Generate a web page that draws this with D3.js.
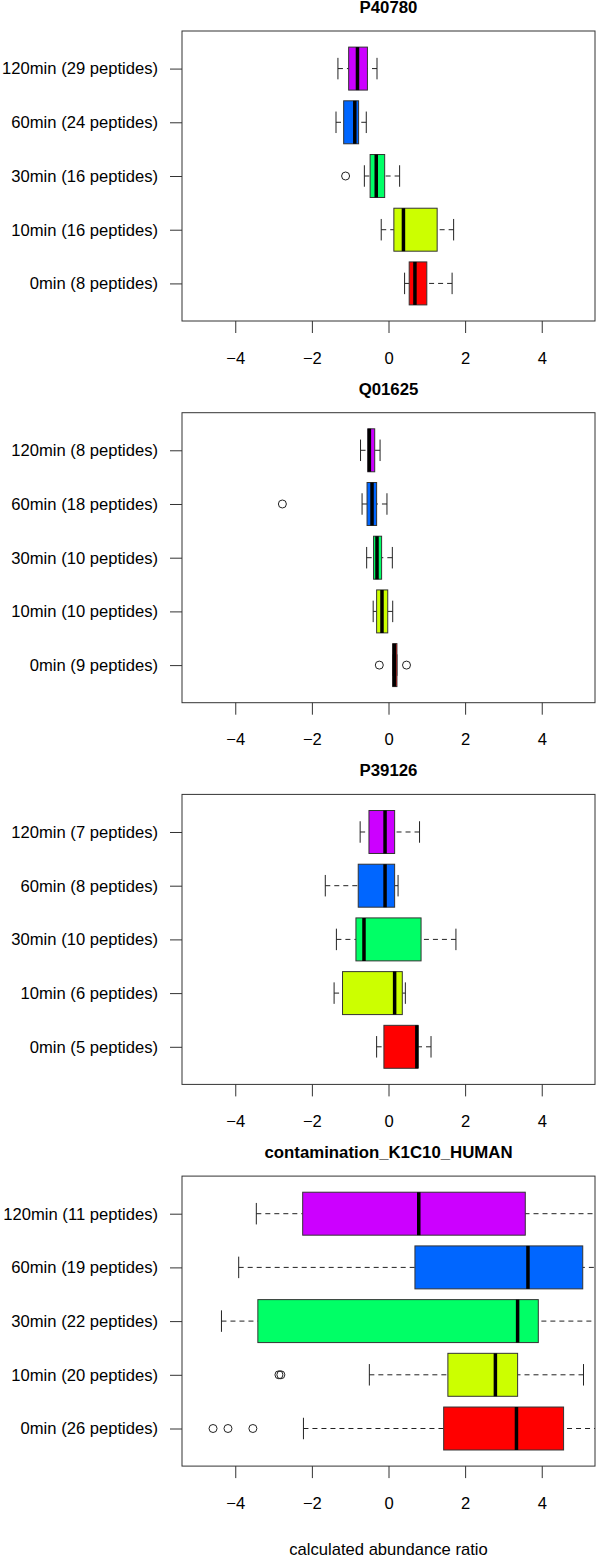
<!DOCTYPE html>
<html>
<head>
<meta charset="utf-8">
<script src="https://cdn.jsdelivr.net/npm/d3@7"></script>
<style>
  body { margin: 0; background: #fff; }
  text { font-family: "Liberation Sans", Arial, Helvetica, sans-serif; fill: #000; }
</style>
</head>
<body>
<div id="chart"></div>
<script>
// proteins, one panel each
const proteins = ["P40780", "Q01625", "P39126", "contamination_K1C10_HUMAN"];
const timepoints = ["0min", "10min", "30min", "60min", "120min"];
const peptideCounts = [
	[8, 16, 16, 24, 29],
	[9, 10, 10, 18, 8],
	[5, 6, 10, 8, 7],
	[26, 20, 22, 19, 11]
];
// [lower whisker, q1, median, q3, upper whisker] per timepoint
const boxStats = [
	[[0.42, 0.54, 0.69, 1.00, 1.66], [-0.19, 0.14, 0.39, 1.27, 1.70], [-0.63, -0.48, -0.32, -0.10, 0.29], [-1.37, -1.17, -0.88, -0.78, -0.58], [-1.32, -1.04, -0.81, -0.55, -0.30]],
	[[0.11, 0.11, 0.15, 0.22, 0.22], [-0.40, -0.31, -0.17, -0.02, 0.11], [-0.57, -0.39, -0.30, -0.18, 0.10], [-0.69, -0.56, -0.43, -0.31, -0.04], [-0.73, -0.54, -0.50, -0.36, -0.22]],
	[[-0.31, -0.12, 0.74, 0.77, 1.11], [-1.42, -1.20, 0.16, 0.36, 0.44], [-1.36, -0.85, -0.64, 0.85, 1.76], [-1.65, -0.79, -0.09, 0.16, 0.25], [-0.74, -0.51, -0.09, 0.16, 0.81]],
	[[-2.22, 1.44, 3.34, 4.57, 6.2], [-0.50, 1.55, 2.79, 3.37, 5.09], [-4.36, -3.41, 3.37, 3.91, 6.0], [-3.91, 0.69, 3.64, 5.07, 6.3], [-3.45, -2.24, 0.79, 3.57, 6.5]]
];
const outliers = [
	[[], [], [-1.12], [], []],
	[[-0.24, 0.47], [], [], [-2.77], []],
	[[], [], [], [], []],
	[[-4.58, -4.19, -3.54], [-2.86, -2.81], [], [], []]
];
const xTicks = [-4, -2, 0, 2, 4];
const colors = ["#FF0000", "#CCFF00", "#00FF66", "#0066FF", "#CC00FF"];

const cfg = {
	w: 600,
	h: 1557,
	left: 182,
	right: 595,
	firstTop: 31,
	panelStep: 381.7,
	plotH: 290,
	fontSize: 16.6,
	xlim: [-5.39, 5.39]
};

const svg = d3.select("#chart")
	.append("svg")
	.attr("width", cfg.w)
	.attr("height", cfg.h);

svg.append("rect").attr("width", cfg.w).attr("height", cfg.h).attr("fill", "#fff");

const x = d3.scaleLinear().domain(cfg.xlim).range([cfg.left, cfg.right]);

proteins.forEach(function (name, p) {
	const top = cfg.firstTop + p * cfg.panelStep;
	const bottom = top + cfg.plotH;
	const y = d3.scaleLinear().domain([0.3, 5.7]).range([bottom, top]);
	const unit = y(0) - y(1);
	const boxH = 0.8 * unit;
	const stapleH = 0.4 * unit;

	const g = svg.append("g");

	g.append("clipPath").attr("id", "clip" + p)
		.append("rect")
		.attr("x", cfg.left).attr("y", top)
		.attr("width", cfg.right - cfg.left).attr("height", cfg.plotH);

	const plot = g.append("g").attr("clip-path", "url(#clip" + p + ")");

	const groups = plot.selectAll(".grp")
		.data(boxStats[p])
		.enter()
		.append("g")
		.attr("class", "grp");

	// whiskers (dashed), from the whisker end to the box
	groups.append("line")
		.attr("x1", function (d) { return x(d[0]); })
		.attr("x2", function (d) { return x(d[1]); })
		.attr("y1", function (d, i) { return y(i + 1); })
		.attr("y2", function (d, i) { return y(i + 1); })
		.style("stroke", "#222").style("stroke-width", 1).style("stroke-dasharray", "5,4");
	groups.append("line")
		.attr("x1", function (d) { return x(d[4]); })
		.attr("x2", function (d) { return x(d[3]); })
		.attr("y1", function (d, i) { return y(i + 1); })
		.attr("y2", function (d, i) { return y(i + 1); })
		.style("stroke", "#222").style("stroke-width", 1).style("stroke-dasharray", "5,4");

	// staples
	[0, 4].forEach(function (k) {
		groups.append("line")
			.attr("x1", function (d) { return x(d[k]); })
			.attr("x2", function (d) { return x(d[k]); })
			.attr("y1", function (d, i) { return y(i + 1) - stapleH / 2; })
			.attr("y2", function (d, i) { return y(i + 1) + stapleH / 2; })
			.style("stroke", "#222").style("stroke-width", 1);
	});

	// boxes
	groups.append("rect")
		.attr("x", function (d) { return x(d[1]); })
		.attr("width", function (d) { return Math.max(x(d[3]) - x(d[1]), 0.5); })
		.attr("y", function (d, i) { return y(i + 1) - boxH / 2; })
		.attr("height", boxH)
		.style("fill", function (d, i) { return colors[i]; })
		.style("stroke", "#333").style("stroke-width", 1);

	// medians
	groups.append("line")
		.attr("x1", function (d) { return x(d[2]); })
		.attr("x2", function (d) { return x(d[2]); })
		.attr("y1", function (d, i) { return y(i + 1) - boxH / 2; })
		.attr("y2", function (d, i) { return y(i + 1) + boxH / 2; })
		.style("stroke", "#000").style("stroke-width", 3.5);

	// outliers
	outliers[p].forEach(function (vals, i) {
		plot.selectAll(".out" + i)
			.data(vals)
			.enter()
			.append("circle")
			.attr("cx", function (v) { return x(v); })
			.attr("cy", y(i + 1))
			.attr("r", 4)
			.style("fill", "none")
			.style("stroke", "#222").style("stroke-width", 1);
	});

	// frame
	g.append("rect")
		.attr("x", cfg.left).attr("y", top)
		.attr("width", cfg.right - cfg.left).attr("height", cfg.plotH)
		.style("fill", "none").style("stroke", "#333").style("stroke-width", 1);

	// x axis
	const xAxis = g.append("g")
		.attr("transform", "translate(0," + bottom + ")")
		.call(d3.axisBottom(x).tickValues(xTicks).tickSize(12).tickPadding(19)
			.tickFormat(function (v) { return v < 0 ? "\u2212" + Math.abs(v) : String(v); }));
	xAxis.select(".domain").remove();
	xAxis.selectAll("line").style("stroke", "#333");
	xAxis.selectAll("text").style("font-size", cfg.fontSize + "px")
		.style("font-family", '"Liberation Sans", Arial, sans-serif').attr("fill", "#000");

	// y axis with group labels
	const yAxis = g.append("g")
		.attr("transform", "translate(" + cfg.left + ",0)")
		.call(d3.axisLeft(y).tickValues([1, 2, 3, 4, 5]).tickSize(12).tickPadding(12)
			.tickFormat(function (v) { return timepoints[v - 1] + " (" + peptideCounts[p][v - 1] + " peptides)"; }));
	yAxis.select(".domain").remove();
	yAxis.selectAll("line").style("stroke", "#333");
	yAxis.selectAll("text").style("font-size", cfg.fontSize + "px")
		.style("font-family", '"Liberation Sans", Arial, sans-serif').attr("fill", "#000");

	// title
	g.append("text")
		.attr("x", (cfg.left + cfg.right) / 2)
		.attr("y", top - 18)
		.attr("text-anchor", "middle")
		.style("font-size", "16.8px")
		.style("font-weight", "bold")
		.text(name);
});

svg.append("text")
	.attr("x", (cfg.left + cfg.right) / 2)
	.attr("y", 1555)
	.attr("text-anchor", "middle")
	.style("font-size", cfg.fontSize + "px")
	.text("calculated abundance ratio");
</script>
</body>
</html>
